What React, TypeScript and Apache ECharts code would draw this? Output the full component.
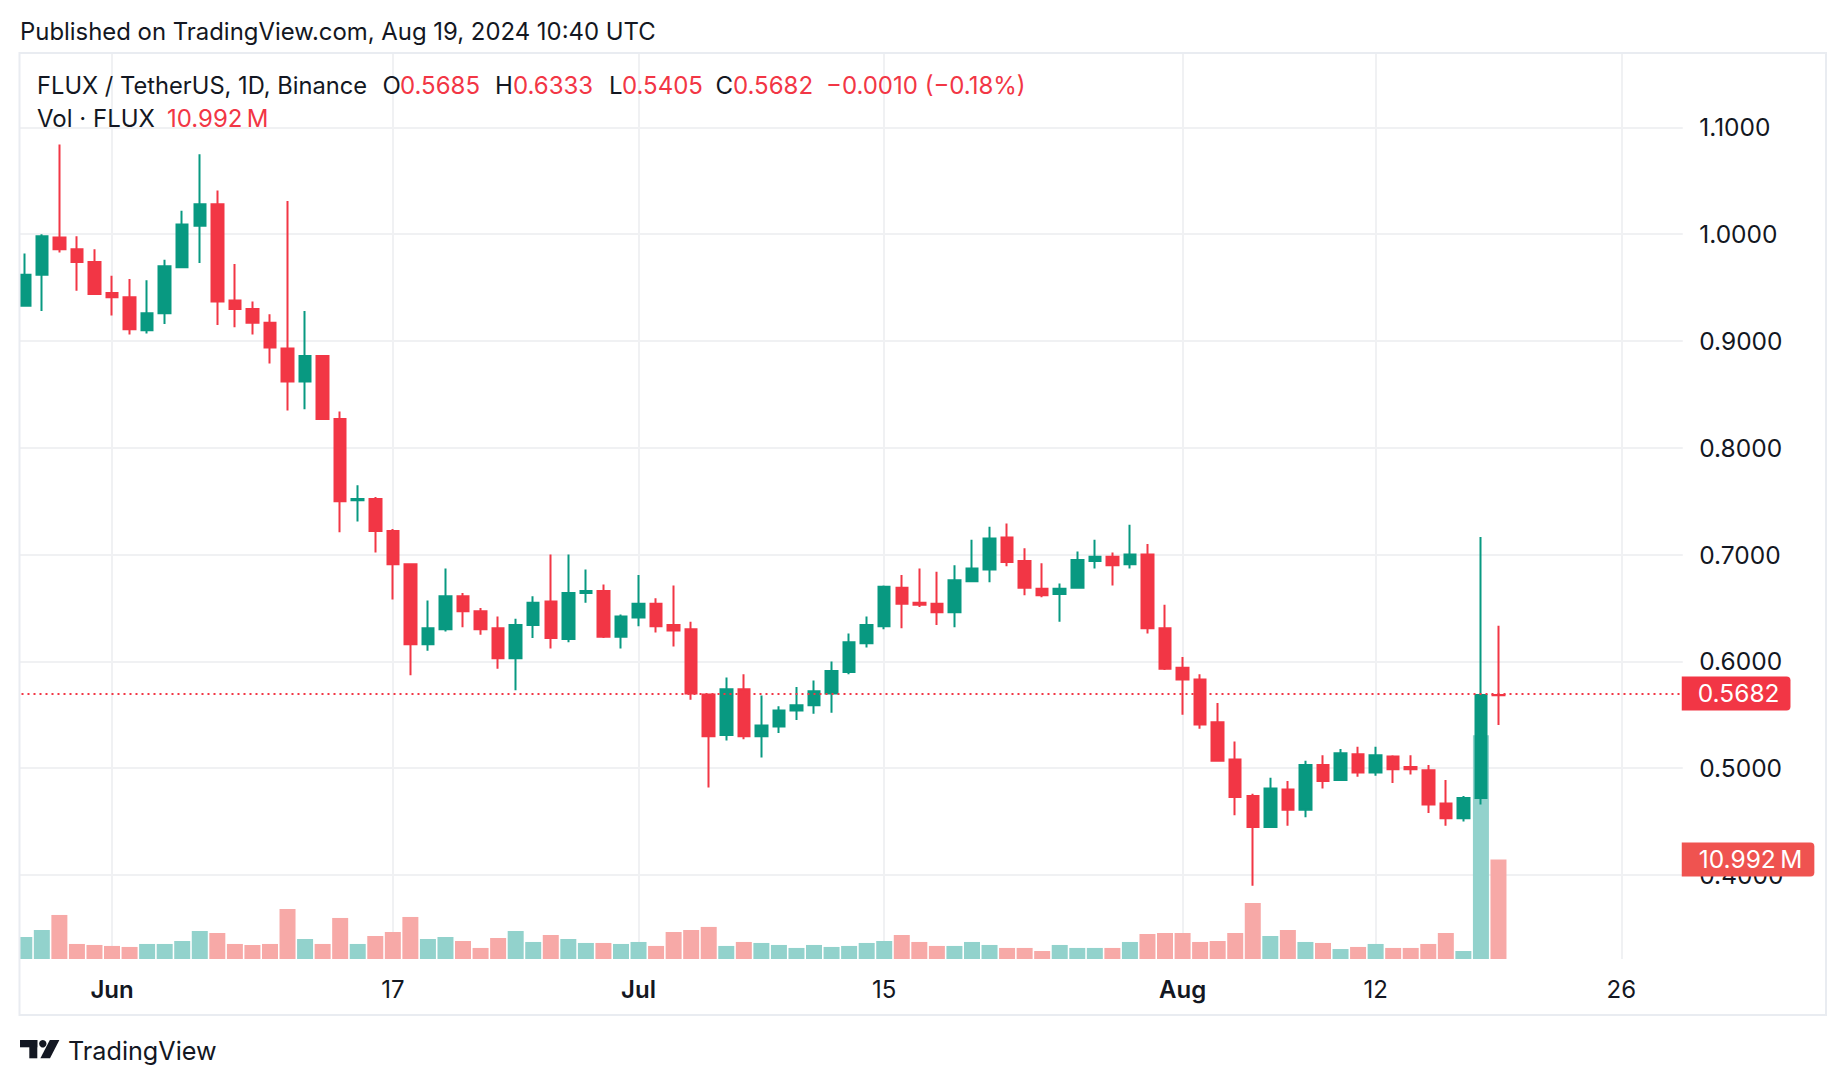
import React, { useEffect, useRef } from 'react';
import * as echarts from 'echarts';

// ---- data (FLUX / TetherUS, 1D, Binance) ----
const firstDay = '2024-05-27';
const axisDays = 95; // May 27 .. Aug 29 (axis runs past last candle)

const opens = [
  0.933, 0.962, 0.997, 0.986, 0.974, 0.945, 0.941, 0.910, 0.926, 0.969,
  1.008, 1.028, 0.938, 0.930, 0.917, 0.893, 0.862, 0.886, 0.827, 0.751,
  0.752, 0.722, 0.691, 0.616, 0.630, 0.661, 0.647, 0.631, 0.603, 0.634,
  0.656, 0.621, 0.664, 0.666, 0.623, 0.641, 0.654, 0.634, 0.630, 0.569,
  0.531, 0.574, 0.530, 0.539, 0.554, 0.559, 0.570, 0.590, 0.617, 0.633,
  0.669, 0.655, 0.654, 0.646, 0.675, 0.686, 0.716, 0.694, 0.668, 0.663,
  0.669, 0.694, 0.698, 0.691, 0.700, 0.631, 0.594, 0.583, 0.543, 0.508,
  0.474, 0.445, 0.480, 0.461, 0.503, 0.489, 0.513, 0.496, 0.511, 0.501,
  0.498, 0.467, 0.453, 0.472, 0.5685,
];
const closes = [
  0.962, 0.998, 0.986, 0.974, 0.944, 0.941, 0.911, 0.926, 0.970, 1.009,
  1.028, 0.937, 0.930, 0.917, 0.894, 0.862, 0.886, 0.827, 0.750, 0.752,
  0.722, 0.691, 0.616, 0.631, 0.661, 0.647, 0.630, 0.603, 0.634, 0.655,
  0.622, 0.664, 0.666, 0.623, 0.642, 0.654, 0.633, 0.629, 0.570, 0.530,
  0.574, 0.530, 0.540, 0.554, 0.559, 0.572, 0.591, 0.618, 0.634, 0.670,
  0.654, 0.653, 0.646, 0.676, 0.687, 0.715, 0.693, 0.669, 0.662, 0.668,
  0.695, 0.698, 0.690, 0.700, 0.631, 0.593, 0.583, 0.541, 0.507, 0.473,
  0.445, 0.481, 0.461, 0.503, 0.488, 0.514, 0.496, 0.512, 0.499, 0.499,
  0.466, 0.453, 0.472, 0.5685, 0.5682,
];
const lows = [
  0.932, 0.928, 0.983, 0.947, 0.944, 0.924, 0.906, 0.907, 0.916, 0.969,
  0.973, 0.915, 0.913, 0.906, 0.879, 0.835, 0.836, 0.826, 0.721, 0.731,
  0.702, 0.658, 0.587, 0.610, 0.628, 0.632, 0.625, 0.593, 0.573, 0.622,
  0.612, 0.618, 0.655, 0.622, 0.612, 0.633, 0.627, 0.614, 0.564, 0.482,
  0.526, 0.527, 0.510, 0.533, 0.545, 0.551, 0.552, 0.588, 0.613, 0.630,
  0.631, 0.651, 0.634, 0.632, 0.674, 0.674, 0.689, 0.662, 0.660, 0.637,
  0.668, 0.687, 0.671, 0.687, 0.626, 0.592, 0.550, 0.537, 0.506, 0.456,
  0.390, 0.445, 0.446, 0.454, 0.481, 0.488, 0.492, 0.493, 0.486, 0.494,
  0.458, 0.446, 0.450, 0.466, 0.5405,
];
const highs = [
  0.982, 1.000, 1.084, 0.998, 0.986, 0.961, 0.958, 0.957, 0.976, 1.022,
  1.075, 1.041, 0.972, 0.937, 0.925, 1.031, 0.928, 0.887, 0.834, 0.765,
  0.754, 0.724, 0.692, 0.657, 0.687, 0.664, 0.650, 0.642, 0.640, 0.661,
  0.700, 0.700, 0.686, 0.672, 0.644, 0.681, 0.659, 0.671, 0.637, 0.570,
  0.585, 0.588, 0.568, 0.558, 0.576, 0.582, 0.600, 0.626, 0.642, 0.671,
  0.681, 0.687, 0.684, 0.690, 0.714, 0.726, 0.729, 0.706, 0.692, 0.673,
  0.703, 0.714, 0.702, 0.728, 0.710, 0.653, 0.604, 0.588, 0.561, 0.525,
  0.476, 0.491, 0.488, 0.507, 0.512, 0.518, 0.520, 0.520, 0.512, 0.512,
  0.503, 0.489, 0.474, 0.7165, 0.6333,
];
// volume in millions of FLUX
const volumes = [
  2.43, 3.20, 4.86, 1.66, 1.55, 1.44, 1.33, 1.66, 1.66, 1.99,
  3.09, 2.87, 1.66, 1.55, 1.66, 5.52, 2.21, 1.66, 4.53, 1.66,
  2.54, 2.98, 4.64, 2.21, 2.43, 1.99, 1.22, 2.32, 3.09, 1.88,
  2.65, 2.21, 1.77, 1.77, 1.66, 1.88, 1.44, 2.98, 3.20, 3.54,
  1.44, 1.88, 1.77, 1.55, 1.22, 1.55, 1.33, 1.44, 1.77, 1.99,
  2.65, 1.88, 1.44, 1.44, 1.88, 1.55, 1.22, 1.22, 0.88, 1.55,
  1.22, 1.22, 1.22, 1.88, 2.76, 2.87, 2.87, 1.88, 1.99, 2.87,
  6.19, 2.54, 3.20, 1.88, 1.77, 1.10, 1.33, 1.66, 1.22, 1.22,
  1.66, 2.87, 0.88, 24.7, 10.992,
];
const tickDates = ['2024-06-01', '2024-06-17', '2024-07-01', '2024-07-15', '2024-08-01', '2024-08-12', '2024-08-26'];
const tickLabels = ['Jun', '17', 'Jul', '15', 'Aug', '12', '26'];
const monthLabels = ['Jun', 'Jul', 'Aug'];
const lastPrice = 0.5682;
const lastVolume = 10.992;
const priceMin = 0.3213;
const priceMax = 1.1697;
const volumeMax = 100;

// ---- styles ----
const FONT = 'Inter, "Noto Sans", sans-serif';
const TEXT = '#131722';
const UP = '#089981';
const DOWN = '#F23645';
const VOL_UP = '#92D2CC';
const VOL_DOWN = '#F7A9A7';
const VOL_LABEL = '#EF5350';
const GRID_COLOR = '#F0F1F3';

function buildDates(): string[] {
  const out: string[] = [];
  const start = new Date(firstDay + 'T00:00:00Z').getTime();
  for (let i = 0; i < axisDays; i++) {
    out.push(new Date(start + i * 86400000).toISOString().slice(0, 10));
  }
  return out;
}

function txt(text: string, x: number, y: number, size: number, fill: string, extra: any = {}) {
  return {
    type: 'text',
    x,
    y,
    silent: true,
    z: 110,
    style: { text, fill, fontSize: size, fontFamily: FONT, align: 'left', verticalAlign: 'middle', ...extra },
  };
}

function buildOption() {
  const dates = buildDates();
  const tickIdx = tickDates.map((d) => dates.indexOf(d));
  const candleData = opens.map((o, i) => [o, closes[i], lows[i], highs[i]]);
  const volData = volumes.map((v, i) => ({
    value: v,
    itemStyle: { color: closes[i] >= opens[i] ? VOL_UP : VOL_DOWN },
  }));

  const legendY = 85;
  const legend2Y = 118.5;
  const lsz = 24;
  const last = opens.length - 1;

  return {
    animation: false,
    backgroundColor: '#ffffff',
    grid: { left: 15.5, top: 53, width: 1667.25, height: 906, containLabel: false },
    xAxis: {
      type: 'category',
      data: dates,
      boundaryGap: true,
      axisLine: { show: false },
      axisTick: { show: false },
      splitLine: { show: false },
      axisLabel: {
        interval: (index: number) => tickIdx.indexOf(index) >= 0,
        formatter: (value: string) => {
          const k = tickDates.indexOf(value);
          if (k < 0) return '';
          const lab = tickLabels[k];
          return monthLabels.indexOf(lab) >= 0 ? '{m|' + lab + '}' : lab;
        },
        color: TEXT,
        fontSize: 24,
        fontFamily: FONT,
        margin: 18,
        rich: { m: { fontSize: 24, fontWeight: 600, color: TEXT, fontFamily: FONT } },
      },
    },
    yAxis: [
      {
        type: 'value',
        position: 'right',
        min: priceMin,
        max: priceMax,
        splitNumber: 8,
        minInterval: 0.1,
        maxInterval: 0.1,
        axisLine: { show: false },
        axisTick: { show: false },
        axisLabel: {
          color: TEXT,
          fontSize: 24.5,
          fontFamily: FONT,
          margin: 16.5,
          showMinLabel: false,
          showMaxLabel: false,
          formatter: (v: number) => v.toFixed(4),
        },
        splitLine: { show: true, showMinLine: false, showMaxLine: false, lineStyle: { color: GRID_COLOR, width: 2 } },
      },
      { type: 'value', min: 0, max: volumeMax, show: false, splitLine: { show: false } },
    ],
    series: [
      {
        type: 'line',
        name: 'grid',
        data: dates.map(() => null),
        silent: true,
        showSymbol: false,
        xAxisIndex: 0,
        yAxisIndex: 0,
        markLine: {
          silent: true,
          z: 0,
          symbol: ['none', 'none'],
          label: { show: false },
          lineStyle: { color: GRID_COLOR, width: 2, type: 'solid' },
          emphasis: { disabled: true },
          data: tickDates.map((d) => ({ xAxis: d })),
        },
      },
      {
        type: 'bar',
        name: 'Vol',
        xAxisIndex: 0,
        yAxisIndex: 1,
        z: 1,
        barWidth: 16,
        silent: true,
        data: volData,
        markLine: {
          silent: true,
          z: 6,
          symbol: ['none', 'none'],
          lineStyle: { color: 'rgba(255,255,255,0)', width: 1, type: 'solid' },
          emphasis: { disabled: true },
          label: {
            show: true,
            position: 'end',
            distance: -1,
            formatter: '10.992\u2009M',
            backgroundColor: VOL_LABEL,
            color: '#ffffff',
            opacity: 1,
            fontSize: 24.5,
            fontFamily: FONT,
            padding: [5, 12, 4, 17],
            borderRadius: [0, 4, 4, 0],
          },
          data: [{ yAxis: lastVolume }],
        },
      },
      {
        type: 'candlestick',
        name: 'FLUX',
        xAxisIndex: 0,
        yAxisIndex: 0,
        z: 3,
        barWidth: 12,
        silent: true,
        data: candleData,
        itemStyle: { color: UP, color0: DOWN, borderColor: UP, borderColor0: DOWN, borderWidth: 2 },
        markLine: {
          silent: true,
          z: 5,
          symbol: ['none', 'none'],
          lineStyle: { color: DOWN, width: 2, type: [2, 4] },
          emphasis: { disabled: true },
          label: {
            show: true,
            position: 'end',
            distance: -1,
            formatter: lastPrice.toFixed(4),
            backgroundColor: DOWN,
            color: '#ffffff',
            fontSize: 24.5,
            fontFamily: FONT,
            padding: [5, 11, 4, 16],
            borderRadius: [0, 4, 4, 0],
          },
          data: [{ yAxis: lastPrice }],
        },
      },
    ],
    graphic: [
      // clip area left of the frame
      { type: 'rect', silent: true, z: 100, shape: { x: 0, y: 45, width: 19, height: 925 }, style: { fill: '#ffffff' } },
      // frame
      {
        type: 'rect',
        silent: true,
        z: 101,
        shape: { x: 19.5, y: 53, width: 1806.5, height: 962 },
        style: { fill: 'none', stroke: '#E9ECF1', lineWidth: 2 },
      },
      txt('Published on TradingView.com, Aug 19, 2024 10:40 UTC', 20, 31.5, 23.9, TEXT),
      txt('FLUX / TetherUS, 1D, Binance', 37, legendY, 23.7, TEXT),
      txt('O', 382.5, legendY, lsz, TEXT),
      txt(opens[last].toFixed(4), 400, legendY, lsz, DOWN),
      txt('H', 495, legendY, lsz, TEXT),
      txt(highs[last].toFixed(4), 513, legendY, lsz, DOWN),
      txt('L', 609, legendY, lsz, TEXT),
      txt(lows[last].toFixed(4), 622, legendY, lsz, DOWN),
      txt('C', 715.5, legendY, lsz, TEXT),
      txt(closes[last].toFixed(4), 733, legendY, lsz, DOWN),
      txt('\u22120.0010 (\u22120.18%)', 826, legendY, lsz, DOWN),
      txt('Vol \u00B7 FLUX', 37, legend2Y, lsz, TEXT),
      txt('10.992\u2009M', 167, legend2Y, lsz, DOWN),
      // TradingView logo
      { type: 'rect', silent: true, z: 110, shape: { x: 20, y: 1040, width: 17.3, height: 7.3 }, style: { fill: TEXT } },
      { type: 'rect', silent: true, z: 110, shape: { x: 29.3, y: 1040, width: 8, height: 18.3 }, style: { fill: TEXT } },
      { type: 'circle', silent: true, z: 110, shape: { cx: 42.8, cy: 1043.7, r: 3.7 }, style: { fill: TEXT } },
      {
        type: 'polygon',
        silent: true,
        z: 110,
        shape: { points: [[49.8, 1040], [59.4, 1040], [50, 1058.3], [40.4, 1058.3]] },
        style: { fill: TEXT },
      },
      txt('TradingView', 68, 1051, 25.2, TEXT),
    ],
  };
}

export default function App() {
  const ref = useRef<HTMLDivElement>(null);
  useEffect(() => {
    document.body.style.margin = '0';
    const chart = echarts.init(ref.current as HTMLDivElement, undefined, { renderer: 'svg', width: 1846, height: 1086 });
    chart.setOption(buildOption() as any);
    return () => {
      chart.dispose();
    };
  }, []);
  return <div ref={ref} style={{ width: 1846, height: 1086, background: '#ffffff' }} />;
}
